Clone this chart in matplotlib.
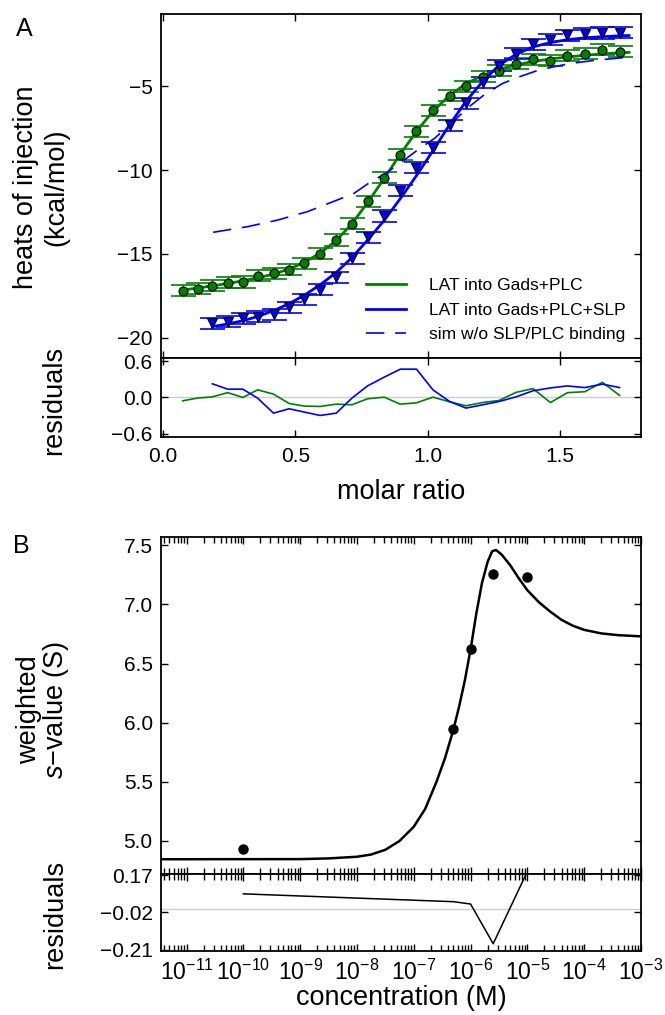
import numpy as np
import matplotlib
matplotlib.use('Agg')
import matplotlib.pyplot as plt
from matplotlib.ticker import LogLocator, NullFormatter, MultipleLocator

plt.rcParams['font.family'] = ['Liberation Sans', 'DejaVu Sans']
plt.rcParams['mathtext.fontset'] = 'custom'
plt.rcParams['mathtext.rm'] = 'Liberation Sans'
plt.rcParams['mathtext.it'] = 'Liberation Sans:italic'
plt.rcParams['axes.linewidth'] = 1.3

# ---- panel A: ITC data ----
ratio_gp = [0.074, 0.130, 0.186, 0.244, 0.301, 0.357, 0.417, 0.476, 0.534, 0.593,
            0.654, 0.713, 0.772, 0.835, 0.896, 0.957, 1.019, 1.082, 1.144, 1.208,
            1.269, 1.333, 1.397, 1.463, 1.527, 1.593, 1.659, 1.724]
heat_gp = [-17.18, -17.06, -16.90, -16.71, -16.67, -16.31, -16.15, -15.95, -15.56, -15.00,
           -14.17, -13.21, -11.87, -10.46, -9.09, -7.68, -6.43, -5.58, -5.02, -4.44,
           -4.09, -3.65, -3.41, -3.49, -3.19, -3.06, -2.82, -2.96]
resid_gp = [-0.055, -0.01, 0.01, 0.08, 0.0, 0.126, 0.055, -0.099, -0.142, -0.148,
            -0.11, -0.12, -0.022, 0.005, -0.11, -0.088, 0.005, -0.071, -0.137, -0.082,
            -0.05, 0.084, 0.146, -0.084, 0.079, 0.095, 0.25, 0.034]
fit_gp_ratio = ratio_gp + [1.760]
fit_gp = [-17.15, -17.03, -16.90, -16.76, -16.60, -16.42, -16.20, -15.90, -15.50, -14.95,
          -14.20, -13.20, -11.95, -10.50, -9.05, -7.70, -6.50, -5.55, -4.85, -4.35,
          -4.00, -3.73, -3.53, -3.38, -3.26, -3.16, -3.08, -3.01, -2.99]

ratio_gps = ratio_gp[2:]
heat_gps = [-19.13, -19.05, -18.83, -18.73, -18.59, -18.17, -17.70, -17.14, -16.39, -15.26,
            -14.01, -12.74, -11.23, -9.86, -8.67, -7.32, -6.03, -4.76, -3.77, -3.06,
            -2.50, -2.22, -1.96, -1.87, -1.83, -1.81]
resid_gps = [0.225, 0.137, 0.137, -0.011, -0.258, -0.186, -0.241, -0.296, -0.258, -0.011,
             0.19, 0.334, 0.466, 0.466, 0.126, -0.066, -0.175, -0.12, -0.066, 0.01,
             0.11, 0.157, 0.19, 0.163, 0.22, 0.163]
fit_gps_ratio = ratio_gps + [1.760]
fit_gps = [-19.33, -19.17, -18.98, -18.73, -18.38, -17.96, -17.45, -16.84, -16.10, -15.22,
           -14.18, -13.00, -11.70, -10.33, -8.85, -7.30, -5.90, -4.70, -3.75, -3.10,
           -2.66, -2.40, -2.23, -2.12, -2.05, -2.00, -1.98]

sim_ratio = [0.189, 0.320, 0.433, 0.545, 0.657, 0.721, 0.785, 0.841, 0.897, 0.961,
             1.026, 1.089, 1.154, 1.218, 1.282, 1.346, 1.410, 1.474, 1.538, 1.635, 1.740]
sim_heat = [-13.71, -13.37, -12.98, -12.48, -11.79, -11.39, -10.69, -10.20, -9.56, -8.81,
            -8.10, -7.20, -6.25, -5.45, -4.84, -4.44, -4.09, -3.85, -3.65, -3.45, -3.30]

err = 0.33

# ---- panel B: sedimentation data ----
conc = [1e-10, 5e-7, 1e-6, 2.5e-6, 1e-5]
s_w = [4.93, 5.945, 6.62, 7.26, 7.23]
s_resid = [0.075, 0.035, 0.023, -0.18, 0.19]
fit_logc = [-11.45, -9.0, -8.5, -8.0, -7.75, -7.5, -7.25, -7.0, -6.8, -6.6,
            -6.45, -6.3, -6.2, -6.1, -6.0, -5.9, -5.8, -5.7, -5.62, -5.55,
            -5.45, -5.3, -5.15, -5.0, -4.8, -4.6, -4.4, -4.2, -4.0, -3.7,
            -3.4, -3.0]
fit_s = [4.845, 4.846, 4.852, 4.866, 4.885, 4.925, 5.00, 5.12, 5.27, 5.50,
         5.70, 5.945, 6.14, 6.36, 6.62, 6.92, 7.18, 7.36, 7.45, 7.46,
         7.42, 7.33, 7.22, 7.12, 7.02, 6.94, 6.87, 6.82, 6.785, 6.755,
         6.74, 6.73]

fig = plt.figure(figsize=(6.65, 10.15), dpi=100)
L, W = 0.2421, 0.7218
axA = fig.add_axes([L, 0.6473, W, 0.3389])
axAr = fig.add_axes([L, 0.5695, W, 0.0778])
axB = fig.add_axes([L, 0.1389, W, 0.3320])
axBr = fig.add_axes([L, 0.0631, W, 0.0759])

green = '#008000'
blue = '#0000ff'

axA.errorbar(ratio_gp, heat_gp, yerr=err, fmt='none', ecolor=green, elinewidth=1,
             capsize=9, capthick=1.2, zorder=2)
axA.errorbar(ratio_gps, heat_gps, yerr=err, fmt='none', ecolor=blue, elinewidth=1,
             capsize=9, capthick=1.2, zorder=2)
axA.plot(fit_gp_ratio, fit_gp, color=green, lw=2, zorder=3, label='LAT into Gads+PLC')
axA.plot(fit_gps_ratio, fit_gps, color=blue, lw=2, zorder=3, label='LAT into Gads+PLC+SLP')
axA.plot(sim_ratio, sim_heat, color=blue, lw=1.2, dashes=(11, 6.5), zorder=3,
         label='sim w/o SLP/PLC binding')
axA.plot(ratio_gp, heat_gp, 'o', ms=6.5, mfc=green, mec='black', mew=0.8, zorder=4)
axA.plot(ratio_gps, heat_gps, 'v', ms=7, mfc=blue, mec='black', mew=0.8, zorder=4)

axA.set_xlim(-0.008, 1.805)
axA.set_ylim(-21.2, -0.7)
axA.set_yticks([-20, -15, -10, -5])
axA.xaxis.set_major_locator(MultipleLocator(0.5))
axA.tick_params(labelbottom=False)
axA.legend(loc='lower right', frameon=False, fontsize=12.5, handlelength=2.3,
           labelspacing=0.55, handletextpad=1.3, bbox_to_anchor=(1.0, 0.0))

axAr.axhline(0, color='#cccccc', lw=1, zorder=1)
axAr.plot(ratio_gp, resid_gp, color=green, lw=1.2)
axAr.plot(ratio_gps, resid_gps, color=blue, lw=1.2)
axAr.set_xlim(-0.008, 1.805)
axAr.set_ylim(-0.65, 0.65)
axAr.set_yticks([-0.6, 0.0, 0.6])
axAr.xaxis.set_major_locator(MultipleLocator(0.5))

axB.plot(10 ** np.array(fit_logc), fit_s, color='black', lw=1.8, zorder=2)
axB.plot(conc, s_w, 'o', ms=6.5, color='black', zorder=3)
axB.set_xscale('log')
axB.set_xlim(10 ** -11.45, 1e-3)
axB.set_ylim(4.72, 7.57)
axB.set_yticks([5.0, 5.5, 6.0, 6.5, 7.0, 7.5])
axB.tick_params(labelbottom=False)

axBr.axhline(0, color='#cccccc', lw=1, zorder=1)
axBr.plot(conc, s_resid, color='black', lw=1.1)
axBr.set_xscale('log')
axBr.set_xlim(10 ** -11.45, 1e-3)
axBr.set_ylim(-0.217, 0.177)
axBr.set_yticks([0.17, -0.02, -0.21])
axBr.set_yticklabels(['0.17', '\u22120.02', '\u22120.21'])

for ax in (axB, axBr):
    ax.xaxis.set_major_locator(LogLocator(base=10, numticks=20))
    ax.xaxis.set_minor_locator(LogLocator(base=10, subs=np.arange(2, 10), numticks=20))
    ax.xaxis.set_minor_formatter(NullFormatter())

for ax in (axA, axAr, axB, axBr):
    ax.tick_params(which='both', direction='in', top=True, right=True, width=1,
                   labelsize=15)
    ax.tick_params(which='major', length=5)
    ax.tick_params(which='minor', length=4)
    ax.tick_params(axis='y', pad=6)
    ax.tick_params(axis='x', pad=7)
axBr.tick_params(axis='x', labelsize=16.5, pad=6)

fig.text(0.0368, 0.9719, 'A', fontsize=18, ha='center', va='center')
fig.text(0.0316, 0.4621, 'B', fontsize=18, ha='center', va='center')
fig.text(0.0617, 0.8158, 'heats of injection\n(kcal/mol)', fontsize=19.5, rotation=90,
         ha='center', va='center', multialignment='center')
fig.text(0.0812, 0.6059, 'residuals', fontsize=19.5, rotation=90, ha='center', va='center')
fig.text(0.603, 0.5153, 'molar ratio', fontsize=19.5, ha='center', va='center')
fig.text(0.0654, 0.3005, 'weighted\n$s$\u2212value (S)', fontsize=19.5, rotation=90,
         ha='center', va='center', multialignment='center', linespacing=0.95)
fig.text(0.0827, 0.0995, 'residuals', fontsize=19.5, rotation=90, ha='center', va='center')
fig.text(0.603, 0.0165, 'concentration (M)', fontsize=19.5, ha='center', va='center')

fig.savefig('out.png', dpi=100)
